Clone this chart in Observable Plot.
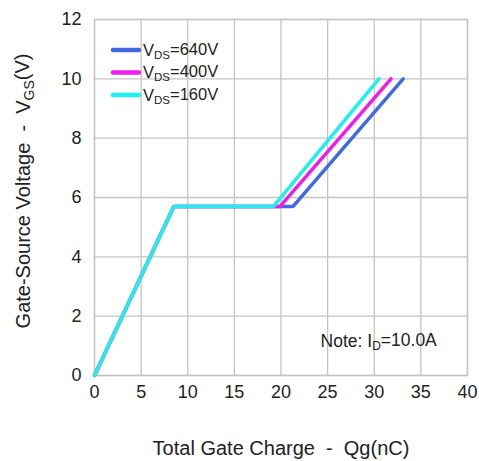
<!DOCTYPE html>
<html><head><meta charset="utf-8">
<script src="https://cdn.jsdelivr.net/npm/d3@7"></script>
<script src="https://cdn.jsdelivr.net/npm/@observablehq/plot@0.6"></script>
<style>
html,body{margin:0;padding:0;background:#fff;}
svg text{font-family:"Liberation Sans",Arial,sans-serif;}
</style></head>
<body><div id="chart"></div>
<script>
const seriesNames = ["640V", "400V", "160V"];
const seriesColors = ["#4169e1", "#ee1cee", "#1ef0f0"];
const qg640 = [0, 8.5, 21.3, 33.1];
const vgs640 = [0, 5.7, 5.7, 10];
const qg400 = [0, 8.5, 19.9, 31.8];
const vgs400 = [0, 5.7, 5.7, 10];
const qg160 = [0, 8.5, 19.2, 30.5];
const vgs160 = [0, 5.7, 5.7, 10];
const xTicks = [0, 5, 10, 15, 20, 25, 30, 35, 40];
const yTicks = [0, 2, 4, 6, 8, 10, 12];

const qgs = [qg640, qg400, qg160];
const vgss = [vgs640, vgs400, vgs160];
const data = [];
seriesNames.forEach((s, i) => qgs[i].forEach((q, j) => data.push({series: s, q, v: vgss[i][j]})));

const W = 479, H = 461;
const ml = 94, mr = 12, mt = 19, mb = 86;
const plot = Plot.plot({
  width: W, height: H,
  marginLeft: ml, marginRight: mr, marginTop: mt, marginBottom: mb,
  style: {fontFamily: "Liberation Sans, Arial, sans-serif", fontSize: "18px", color: "#222", background: "#fff"},
  x: {domain: [0, 40], ticks: xTicks, label: null, tickSize: 0, tickPadding: 10},
  y: {domain: [0, 12], ticks: yTicks, label: null, tickSize: 0, tickPadding: 13},
  color: {domain: seriesNames, range: seriesColors},
  marks: [
    Plot.gridX(xTicks, {stroke: "#c4c4c4", strokeOpacity: 1, strokeWidth: 1.3}),
    Plot.gridY(yTicks, {stroke: "#c4c4c4", strokeOpacity: 1, strokeWidth: 1.3}),
    Plot.frame({stroke: "#c4c4c4", strokeWidth: 1.3}),
    Plot.line(data, {x: "q", y: "v", z: "series", stroke: "series", strokeWidth: 3.5, strokeLinejoin: "miter"})
  ]
});
document.getElementById("chart").appendChild(plot);

const svg = d3.select(plot);
const xs = plot.scale("x"), ys = plot.scale("y");
const x0 = xs.apply(0), y12 = ys.apply(12);
const fontFam = "Liberation Sans, Arial, sans-serif";

// Legend
const leg = svg.append("g");
seriesNames.forEach((s, i) => {
  const yy = y12 + 31 + i * 22.5;
  leg.append("line").attr("x1", x0 + 19).attr("x2", x0 + 45).attr("y1", yy).attr("y2", yy)
    .attr("stroke", seriesColors[i]).attr("stroke-width", 4.5).attr("stroke-linecap", "round");
  const t = leg.append("text").attr("x", x0 + 49).attr("y", yy).attr("dy", "0.35em")
    .attr("text-anchor", "start")
    .attr("font-size", 16.5).attr("fill", "#222").attr("font-family", fontFam);
  t.append("tspan").text("V");
  t.append("tspan").text("DS").attr("font-size", 11.5).attr("dy", "0.25em");
  t.append("tspan").text("=" + s).attr("dy", "-0.25em");
});

// Note
const note = svg.append("text").attr("x", xs.apply(24.3)).attr("y", ys.apply(1.15)).attr("dy", "0.35em")
  .attr("text-anchor", "start")
  .attr("font-size", 17.5).attr("fill", "#222").attr("font-family", fontFam);
note.append("tspan").text("Note: I");
note.append("tspan").text("D").attr("font-size", 12).attr("dy", "0.25em");
note.append("tspan").text("=10.0A").attr("dy", "-0.25em");

// X axis title
svg.append("text").attr("x", 281).attr("y", 448).attr("dy", "0.35em").attr("text-anchor", "middle")
  .style("white-space", "pre")
  .attr("font-size", 20).attr("fill", "#222").attr("font-family", fontFam)
  .text("Total Gate Charge  -  Qg(nC)");

// Y axis title
const yt = svg.append("text").attr("transform", "translate(23,191) rotate(-90)").attr("dy", "0.35em")
  .style("white-space", "pre")
  .attr("text-anchor", "middle").attr("font-size", 20).attr("fill", "#222").attr("font-family", fontFam);
yt.append("tspan").text("Gate-Source Voltage  -  V");
yt.append("tspan").text("GS").attr("font-size", 14).attr("dy", "0.25em");
yt.append("tspan").text("(V)").attr("dy", "-0.25em");
</script>
</body></html>
